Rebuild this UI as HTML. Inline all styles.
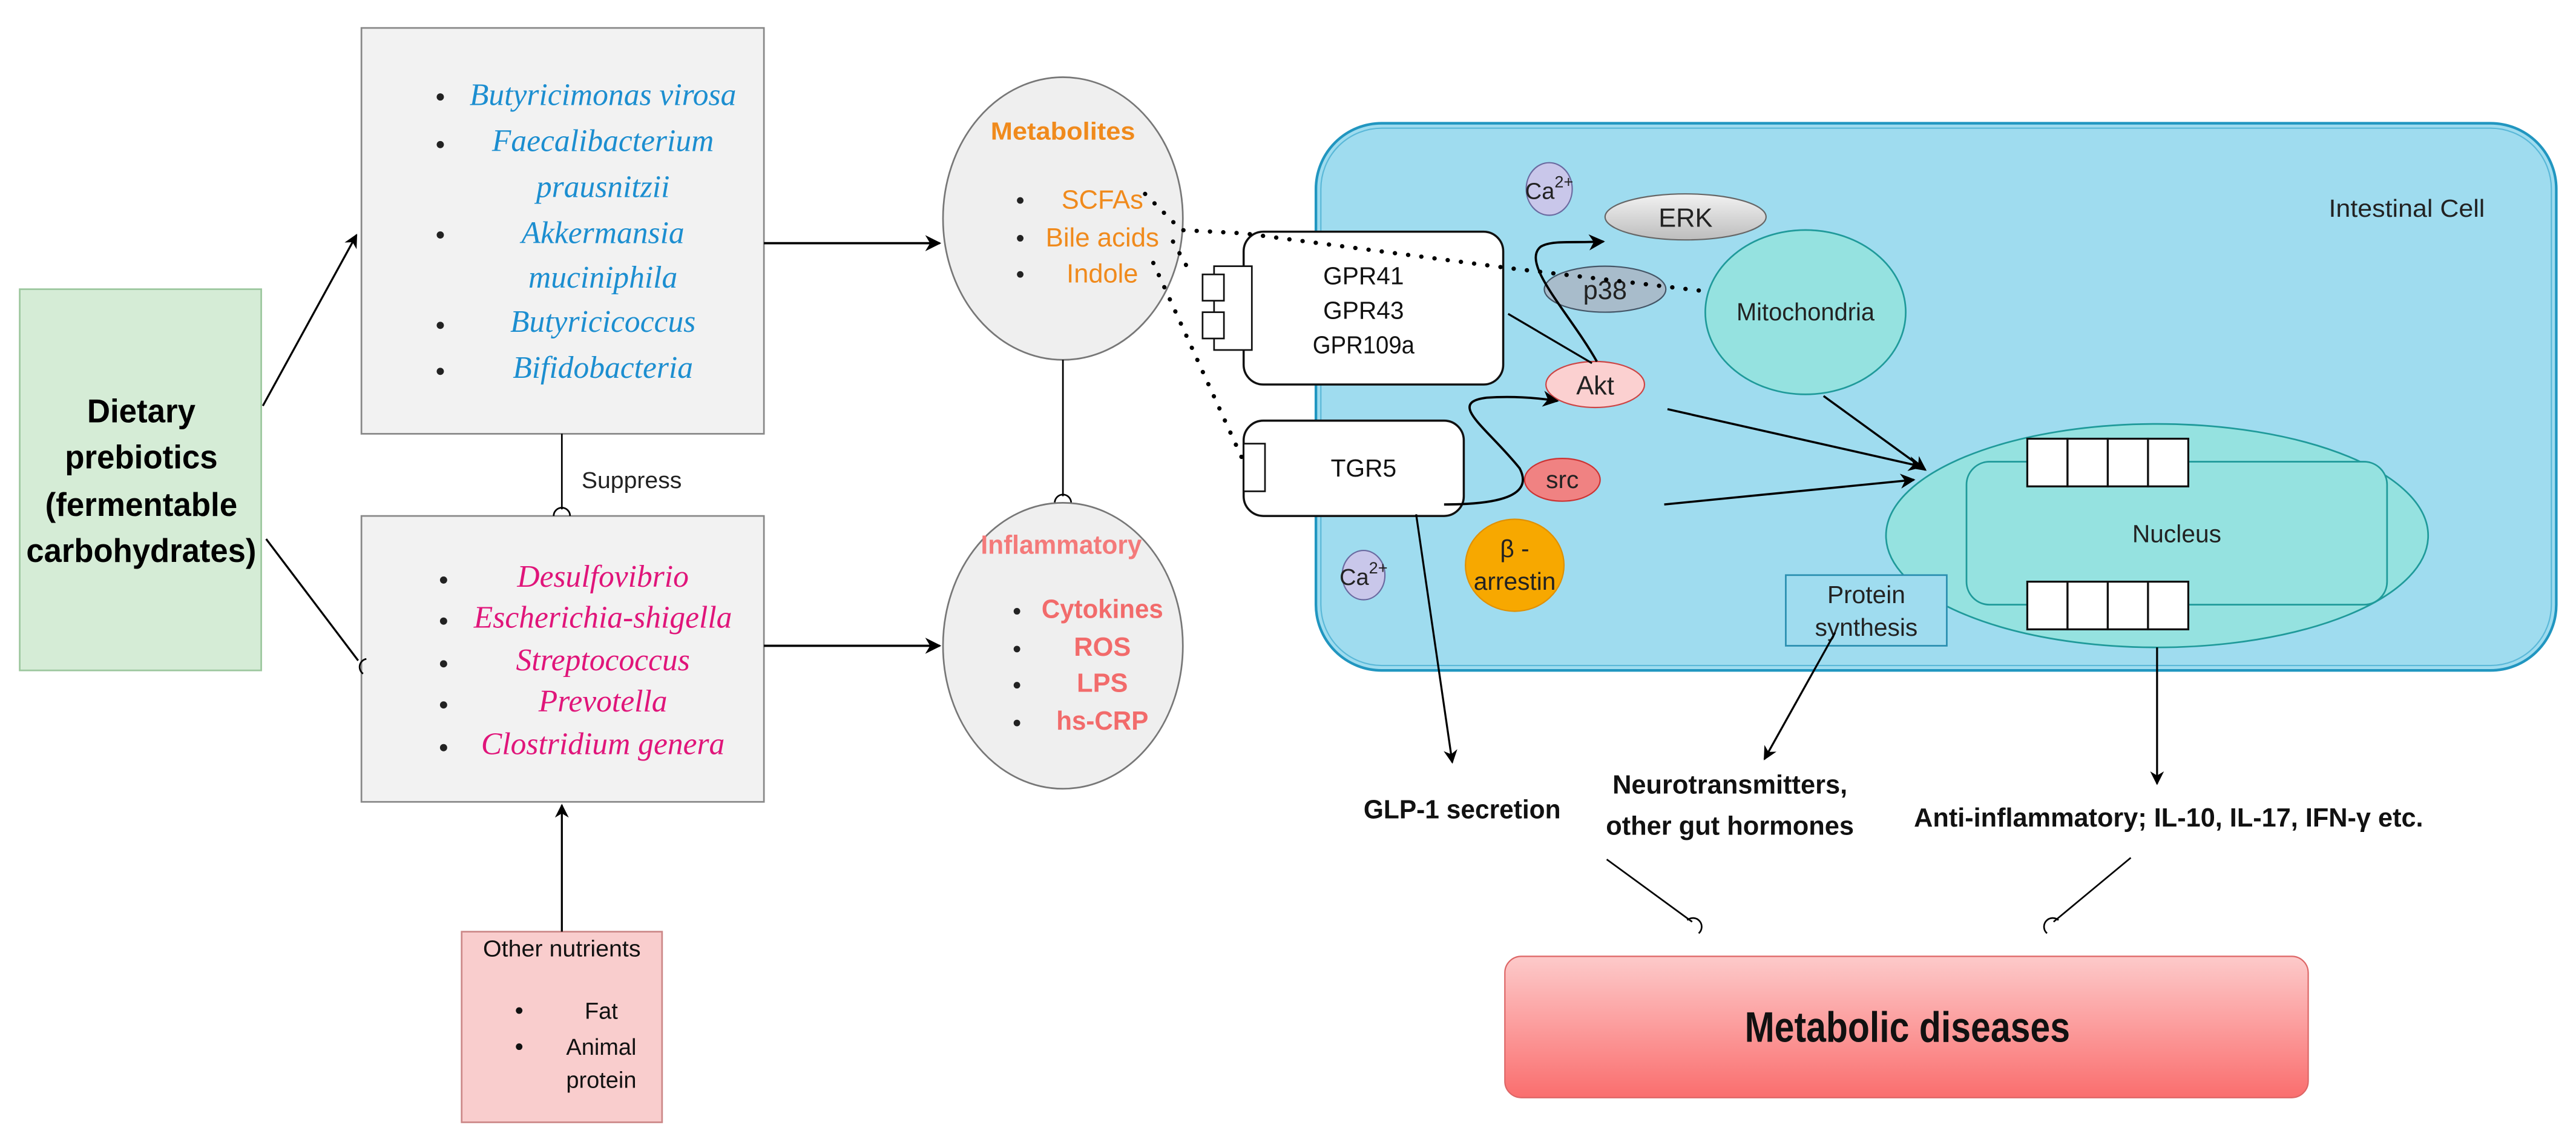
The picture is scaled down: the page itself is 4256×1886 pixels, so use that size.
<!DOCTYPE html>
<html><head><meta charset="utf-8"><style>
html,body{margin:0;padding:0;background:#fff;}
svg{display:block;}
text{font-family:"Liberation Sans",sans-serif;}
.it text{font-family:"Liberation Serif",serif;font-style:italic;}
</style></head><body>
<svg width="4256" height="1886" viewBox="0 0 1568 695" preserveAspectRatio="none" xmlns="http://www.w3.org/2000/svg">
<defs>
<marker id="ar" viewBox="0 0 10 10" refX="9" refY="5" markerWidth="7" markerHeight="7" orient="auto-start-reverse"><path d="M0,0 L10,5 L0,10 L3,5 z" fill="#000"/></marker>
<linearGradient id="gm" x1="0" y1="0" x2="0" y2="1"><stop offset="0" stop-color="#fdcaca"/><stop offset="1" stop-color="#fa6e6e"/></linearGradient>
<linearGradient id="ge" x1="0" y1="0" x2="0" y2="1"><stop offset="0" stop-color="#f2f2f2"/><stop offset="1" stop-color="#bdbdbd"/></linearGradient>
</defs>

<rect x="12" y="176" width="147" height="232" fill="#d5ecd6" stroke="#9cc79e" stroke-width="1"/>
<g font-weight="bold" font-size="20" text-anchor="middle" fill="#000">
<text x="86" y="257" textLength="66" lengthAdjust="spacingAndGlyphs">Dietary</text>
<text x="86" y="285" textLength="93" lengthAdjust="spacingAndGlyphs">prebiotics</text>
<text x="86" y="314" textLength="117" lengthAdjust="spacingAndGlyphs">(fermentable</text>
<text x="86" y="342" textLength="140" lengthAdjust="spacingAndGlyphs">carbohydrates)</text>
</g>

<rect x="220" y="17" width="245" height="247" fill="#f2f2f2" stroke="#888" stroke-width="1"/>
<g class="it" font-size="19" fill="#1c8ed0" text-anchor="middle">
<text x="367" y="64">Butyricimonas virosa</text>
<text x="367" y="92">Faecalibacterium</text>
<text x="367" y="120">prausnitzii</text>
<text x="367" y="148">Akkermansia</text>
<text x="367" y="175">muciniphila</text>
<text x="367" y="202">Butyricicoccus</text>
<text x="367" y="230">Bifidobacteria</text>
</g>
<g fill="#222"><circle cx="268" cy="59" r="2.2"/><circle cx="268" cy="88" r="2.2"/><circle cx="268" cy="143" r="2.2"/><circle cx="268" cy="198" r="2.2"/><circle cx="268" cy="226" r="2.2"/></g>

<rect x="220" y="314" width="245" height="174" fill="#f2f2f2" stroke="#888" stroke-width="1"/>
<g class="it" font-size="19" fill="#e0157a" text-anchor="middle">
<text x="367" y="357">Desulfovibrio</text>
<text x="367" y="382">Escherichia-shigella</text>
<text x="367" y="408">Streptococcus</text>
<text x="367" y="433">Prevotella</text>
<text x="367" y="459">Clostridium genera</text>
</g>
<g fill="#222"><circle cx="270" cy="353" r="2.2"/><circle cx="270" cy="378" r="2.2"/><circle cx="270" cy="404" r="2.2"/><circle cx="270" cy="429" r="2.2"/><circle cx="270" cy="455" r="2.2"/></g>

<text x="354" y="297" font-size="14" fill="#222" textLength="61" lengthAdjust="spacingAndGlyphs">Suppress</text>
<line x1="342" y1="264" x2="342" y2="310" stroke="#000" stroke-width="1"/>
<path d="M337,314 A5,5 0 0 1 347,314" fill="none" stroke="#000" stroke-width="1"/>

<rect x="281" y="567" width="122" height="116" fill="#f9cdcd" stroke="#c88" stroke-width="1"/>
<g font-size="14" fill="#111" text-anchor="middle">
<text x="342" y="582" textLength="96" lengthAdjust="spacingAndGlyphs">Other nutrients</text>
<text x="366" y="620">Fat</text>
<text x="366" y="642">Animal</text>
<text x="366" y="662">protein</text>
</g>
<g fill="#111"><circle cx="316" cy="615" r="2"/><circle cx="316" cy="637" r="2"/></g>
<line x1="342" y1="567" x2="342" y2="490" stroke="#000" stroke-width="1.2" marker-end="url(#ar)"/>

<line x1="160" y1="247" x2="217" y2="143" stroke="#000" stroke-width="1.2" marker-end="url(#ar)"/>
<line x1="162" y1="328" x2="218" y2="402" stroke="#000" stroke-width="1.2"/>
<path d="M223,401 A5,5 0 0 0 221,410" fill="none" stroke="#000" stroke-width="1"/>

<line x1="465" y1="148" x2="572" y2="148" stroke="#000" stroke-width="1.4" marker-end="url(#ar)"/>
<line x1="465" y1="393" x2="572" y2="393" stroke="#000" stroke-width="1.4" marker-end="url(#ar)"/>

<ellipse cx="647" cy="133" rx="73" ry="86" fill="#efefef" stroke="#777" stroke-width="1"/>
<text x="647" y="85" font-size="15" font-weight="bold" fill="#f08a1c" text-anchor="middle" textLength="88" lengthAdjust="spacingAndGlyphs">Metabolites</text>
<g font-size="16" fill="#f08a1c" text-anchor="middle">
<text x="671" y="127">SCFAs</text>
<text x="671" y="150" textLength="69" lengthAdjust="spacingAndGlyphs">Bile acids</text>
<text x="671" y="172">Indole</text>
</g>
<g fill="#222"><circle cx="621" cy="122" r="2"/><circle cx="621" cy="145" r="2"/><circle cx="621" cy="167" r="2"/></g>

<line x1="647" y1="219" x2="647" y2="302" stroke="#000" stroke-width="1"/>
<path d="M642,306 A5,5 0 0 1 652,306" fill="none" stroke="#000" stroke-width="1"/>

<ellipse cx="647" cy="393" rx="73" ry="87" fill="#efefef" stroke="#777" stroke-width="1"/>
<text x="646" y="337" font-size="16" font-weight="bold" fill="#f47a7a" text-anchor="middle" textLength="98" lengthAdjust="spacingAndGlyphs">Inflammatory</text>
<g font-size="16" font-weight="bold" fill="#f26b6b" text-anchor="middle">
<text x="671" y="376" textLength="74" lengthAdjust="spacingAndGlyphs">Cytokines</text>
<text x="671" y="399">ROS</text>
<text x="671" y="421">LPS</text>
<text x="671" y="444" textLength="56" lengthAdjust="spacingAndGlyphs">hs-CRP</text>
</g>
<g fill="#222"><circle cx="619" cy="372" r="2"/><circle cx="619" cy="395" r="2"/><circle cx="619" cy="417" r="2"/><circle cx="619" cy="440" r="2"/></g>

<rect x="801" y="75" width="755" height="333" rx="40" fill="#9fdcef" stroke="#2196c0" stroke-width="1.6"/>
<rect x="804" y="78" width="749" height="327" rx="37" fill="none" stroke="#5ab8d8" stroke-width="0.8"/>
<text x="1465" y="132" font-size="15" fill="#222" text-anchor="middle" textLength="95" lengthAdjust="spacingAndGlyphs">Intestinal Cell</text>

<rect x="757" y="141" width="158" height="93" rx="12" fill="#fff" stroke="#111" stroke-width="1.3"/>
<rect x="739" y="162" width="23" height="51" fill="#fff" stroke="#111" stroke-width="1"/>
<rect x="732" y="167" width="13" height="16" fill="#fff" stroke="#111" stroke-width="1"/>
<rect x="732" y="190" width="13" height="16" fill="#fff" stroke="#111" stroke-width="1"/>
<g font-size="15" fill="#111" text-anchor="middle">
<text x="830" y="173">GPR41</text>
<text x="830" y="194">GPR43</text>
<text x="830" y="215" textLength="62" lengthAdjust="spacingAndGlyphs">GPR109a</text>
</g>
<rect x="757" y="256" width="134" height="58" rx="12" fill="#fff" stroke="#111" stroke-width="1.3"/>
<rect x="757" y="270" width="13" height="29" fill="#fff" stroke="#111" stroke-width="1"/>
<text x="830" y="290" font-size="15" fill="#111" text-anchor="middle">TGR5</text>

<ellipse cx="943" cy="115" rx="14" ry="16" fill="#c9c7ea" stroke="#6a6aa0" stroke-width="0.8"/>
<text x="943" y="121" font-size="14" fill="#222" text-anchor="middle">Ca<tspan font-size="10" dy="-7">2+</tspan></text>
<ellipse cx="830" cy="350" rx="13" ry="15" fill="#c9c7ea" stroke="#6a6aa0" stroke-width="0.8"/>
<text x="830" y="356" font-size="14" fill="#222" text-anchor="middle">Ca<tspan font-size="10" dy="-7">2+</tspan></text>

<ellipse cx="1026" cy="132" rx="49" ry="14" fill="url(#ge)" stroke="#666" stroke-width="0.8"/>
<text x="1026" y="138" font-size="16" fill="#222" text-anchor="middle">ERK</text>
<ellipse cx="977" cy="176" rx="37" ry="14" fill="#a8bccb" stroke="#456" stroke-width="0.8"/>
<text x="977" y="182" font-size="16" fill="#222" text-anchor="middle">p38</text>

<ellipse cx="1099" cy="190" rx="61" ry="50" fill="#95e2e0" stroke="#1f9a9a" stroke-width="1"/>
<text x="1099" y="195" font-size="15" fill="#222" text-anchor="middle" textLength="84" lengthAdjust="spacingAndGlyphs">Mitochondria</text>

<polyline points="697,118 719,140 757,142 917,163 1036,177" fill="none" stroke="#000" stroke-width="2.6" stroke-dasharray="0.1 8" stroke-linecap="round"/>
<polyline points="702,160 757,281" fill="none" stroke="#000" stroke-width="2.6" stroke-dasharray="0.1 8" stroke-linecap="round"/>
<polyline points="714,147 724,165" fill="none" stroke="#000" stroke-width="2.6" stroke-dasharray="0.1 8" stroke-linecap="round"/>

<ellipse cx="971" cy="234" rx="30" ry="14" fill="#fbd0d0" stroke="#c44" stroke-width="0.8"/>
<text x="971" y="240" font-size="16" fill="#222" text-anchor="middle">Akt</text>
<ellipse cx="951" cy="292" rx="23" ry="13" fill="#f08282" stroke="#c33" stroke-width="0.8"/>
<text x="951" y="297" font-size="15" fill="#222" text-anchor="middle">src</text>
<ellipse cx="922" cy="344" rx="30" ry="28" fill="#f7a800" stroke="#e09000" stroke-width="0.8"/>
<text x="922" y="339" font-size="15" fill="#222" text-anchor="middle">β -</text>
<text x="922" y="359" font-size="15" fill="#222" text-anchor="middle">arrestin</text>

<line x1="918" y1="191" x2="969" y2="221" stroke="#000" stroke-width="1.2"/>
<path d="M972,220 C955,190 925,160 938,150 C945,146 958,148 976,147" fill="none" stroke="#000" stroke-width="1.4" marker-end="url(#ar)"/>
<path d="M879,307 C905,307 935,304 925,285 C905,260 880,245 905,242 C920,241 935,242 948,244" fill="none" stroke="#000" stroke-width="1.4" marker-end="url(#ar)"/>

<ellipse cx="1313" cy="326" rx="165" ry="68" fill="#95e2e0" stroke="#1f9a9a" stroke-width="1"/>
<rect x="1197" y="281" width="256" height="87" rx="14" fill="#95e2e0" stroke="#1f9a9a" stroke-width="1"/>
<g fill="#fff" stroke="#111" stroke-width="1.2">
<rect x="1234" y="267" width="24.5" height="29"/><rect x="1258.5" y="267" width="24.5" height="29"/><rect x="1283" y="267" width="24.5" height="29"/><rect x="1307.5" y="267" width="24.5" height="29"/>
<rect x="1234" y="354" width="24.5" height="29"/><rect x="1258.5" y="354" width="24.5" height="29"/><rect x="1283" y="354" width="24.5" height="29"/><rect x="1307.5" y="354" width="24.5" height="29"/>
</g>
<text x="1325" y="330" font-size="15" fill="#222" text-anchor="middle">Nucleus</text>

<rect x="1087" y="350" width="98" height="43" fill="#9fdcef" stroke="#2a8fb0" stroke-width="1"/>
<text x="1136" y="367" font-size="15" fill="#222" text-anchor="middle">Protein</text>
<text x="1136" y="387" font-size="15" fill="#222" text-anchor="middle">synthesis</text>

<line x1="1015" y1="249" x2="1170" y2="284" stroke="#000" stroke-width="1.3" marker-end="url(#ar)"/>
<line x1="1110" y1="241" x2="1172" y2="286" stroke="#000" stroke-width="1.3" marker-end="url(#ar)"/>
<line x1="1013" y1="307" x2="1165" y2="292" stroke="#000" stroke-width="1.3" marker-end="url(#ar)"/>

<line x1="862" y1="313" x2="884" y2="464" stroke="#000" stroke-width="1.2" marker-end="url(#ar)"/>
<line x1="1117" y1="385" x2="1074" y2="462" stroke="#000" stroke-width="1.2" marker-end="url(#ar)"/>
<line x1="1313" y1="394" x2="1313" y2="477" stroke="#000" stroke-width="1.2" marker-end="url(#ar)"/>

<g font-size="16" font-weight="bold" fill="#111" text-anchor="middle">
<text x="890" y="498" textLength="120" lengthAdjust="spacingAndGlyphs">GLP-1 secretion</text>
<text x="1053" y="483" textLength="143" lengthAdjust="spacingAndGlyphs">Neurotransmitters,</text>
<text x="1053" y="508" textLength="151" lengthAdjust="spacingAndGlyphs">other gut hormones</text>
<text x="1320" y="503" textLength="310" lengthAdjust="spacingAndGlyphs">Anti-inflammatory; IL-10, IL-17, IFN-γ etc.</text>
</g>

<line x1="978" y1="523" x2="1030" y2="561" stroke="#000" stroke-width="1"/>
<path d="M1027,560 A5,5 0 0 1 1034,568" fill="none" stroke="#000" stroke-width="1"/>
<line x1="1297" y1="522" x2="1250" y2="561" stroke="#000" stroke-width="1"/>
<path d="M1253,560 A5,5 0 0 0 1246,568" fill="none" stroke="#000" stroke-width="1"/>

<rect x="916" y="582" width="489" height="86" rx="10" fill="url(#gm)" stroke="#d66" stroke-width="0.8"/>
<text x="1161" y="634" font-size="26" font-weight="bold" fill="#111" text-anchor="middle" textLength="198" lengthAdjust="spacingAndGlyphs">Metabolic diseases</text>
</svg>
</body></html>
